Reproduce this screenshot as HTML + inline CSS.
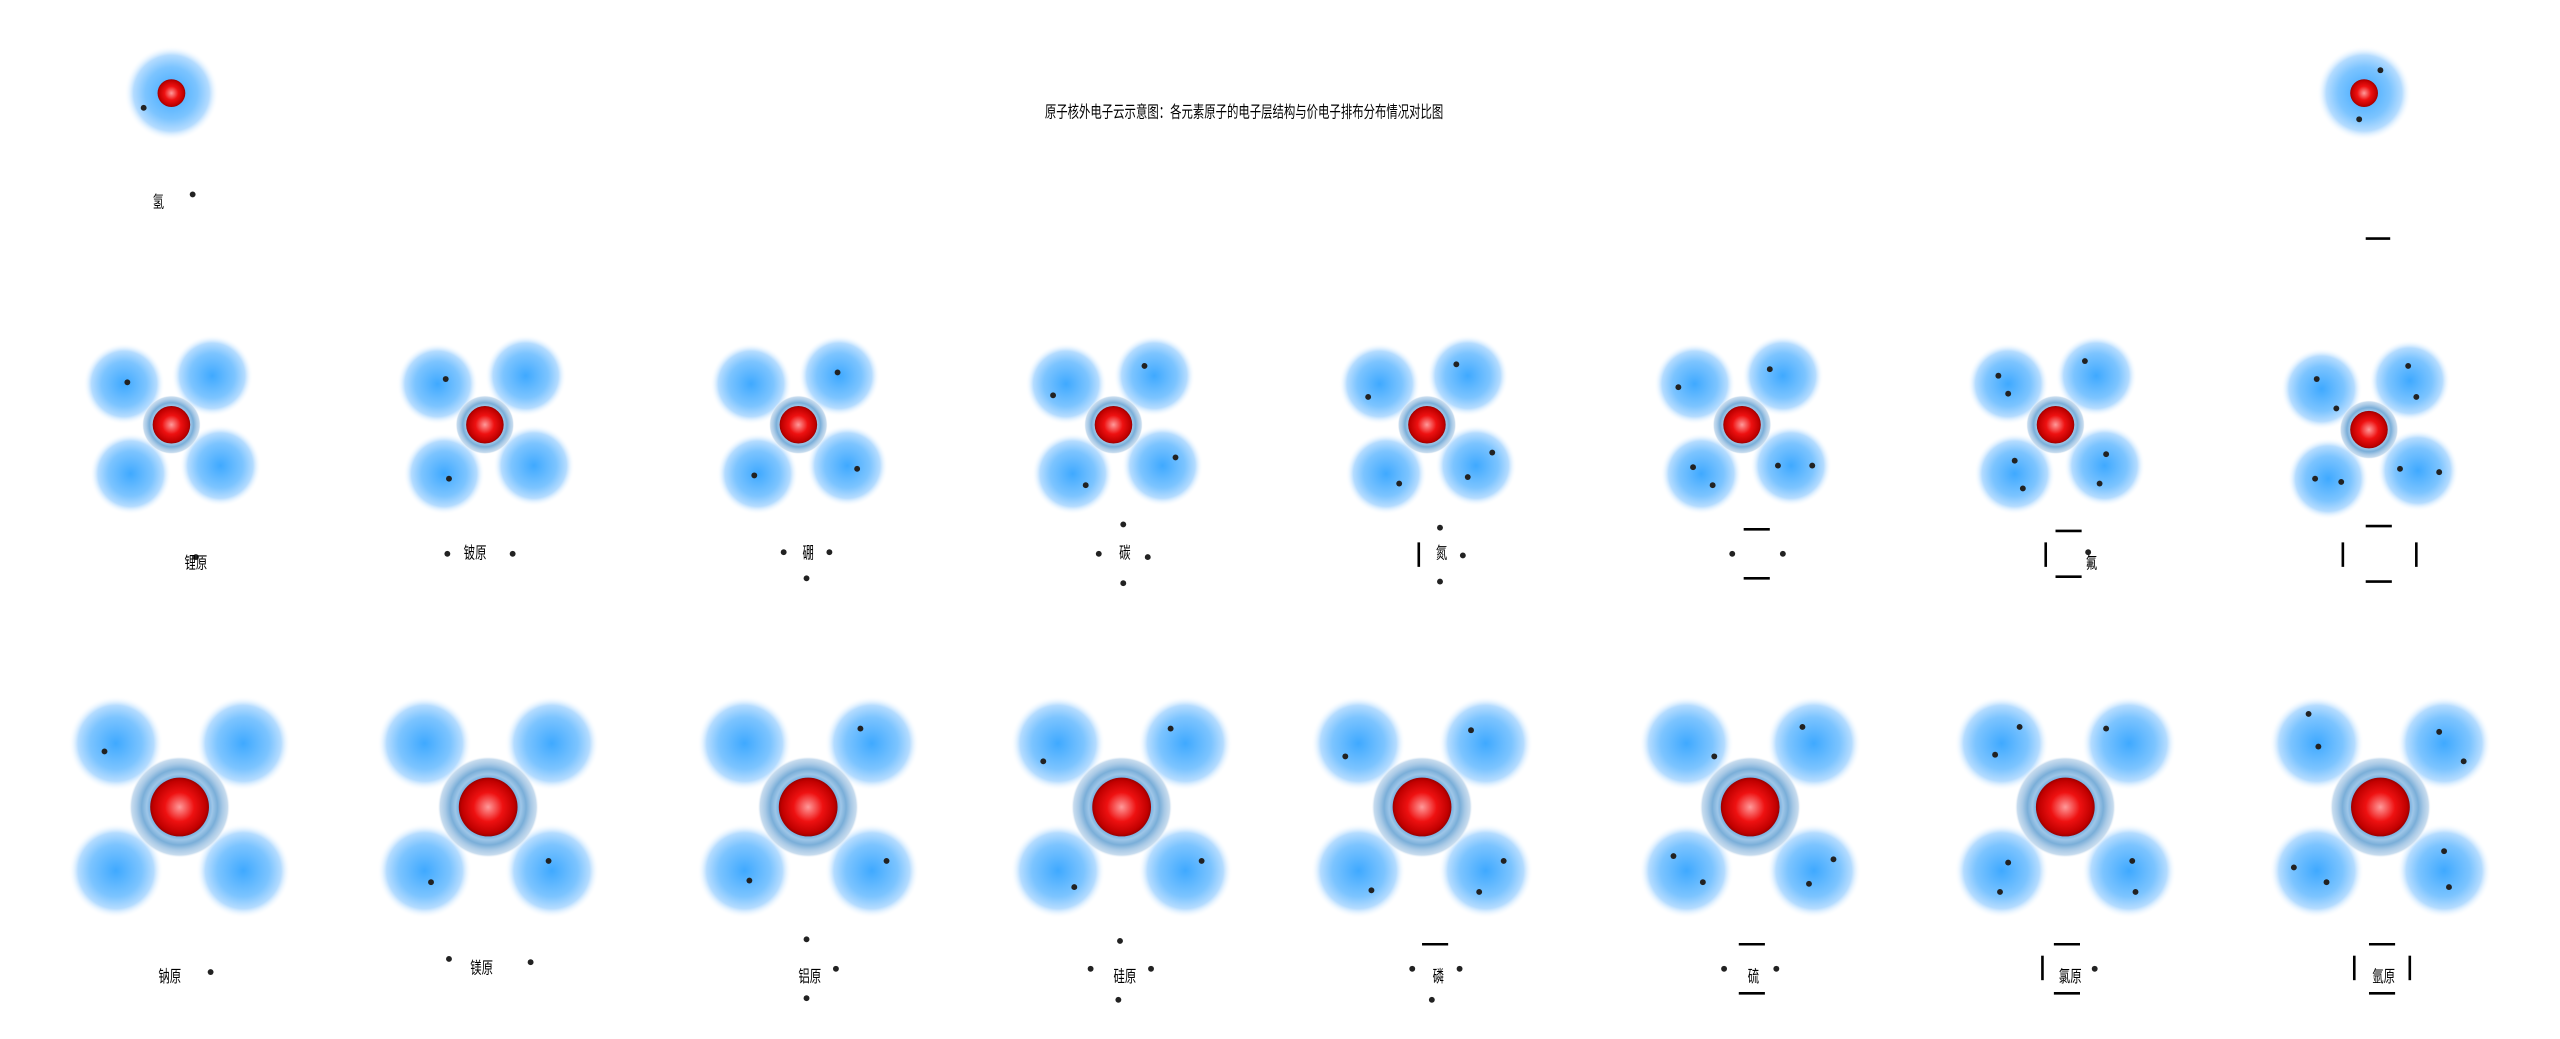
<!DOCTYPE html>
<html><head><meta charset="utf-8"><style>html,body{margin:0;padding:0;background:#fff}svg{display:block}text{font-family:"Liberation Sans","Noto Sans CJK SC",sans-serif;fill:#000}</style></head><body>
<svg width="2560" height="1039" viewBox="0 0 1568 636" preserveAspectRatio="none" xmlns="http://www.w3.org/2000/svg">
<defs>
<radialGradient id="lobe"><stop offset="0" stop-color="#3fa9ff"/><stop offset="0.55" stop-color="#7cc4ff"/><stop offset="0.8" stop-color="#b5dcff"/><stop offset="1" stop-color="#fff" stop-opacity="0"/></radialGradient>
<radialGradient id="nuc" cx="0.5" cy="0.5" r="0.5"><stop offset="0" stop-color="#ff9a9a"/><stop offset="0.5" stop-color="#ee1111"/><stop offset="0.9" stop-color="#c00000"/><stop offset="1" stop-color="#900"/></radialGradient>
<radialGradient id="halo"><stop offset="0.55" stop-color="#6aaae0"/><stop offset="0.65" stop-color="#9ec6e8"/><stop offset="0.75" stop-color="#7aaed8"/><stop offset="0.85" stop-color="#a8c9e6"/><stop offset="0.95" stop-color="#c8dcee"/><stop offset="1" stop-color="#fff" stop-opacity="0"/></radialGradient>
<g id="a1"><circle r="29" fill="url(#lobe)"/><circle r="8.5" fill="url(#nuc)"/></g>
<g id="a2"><ellipse cx="-29" cy="-25" rx="25" ry="25" fill="url(#lobe)"/><ellipse cx="25" cy="-30" rx="25" ry="25" fill="url(#lobe)"/><ellipse cx="-25" cy="30" rx="25" ry="25" fill="url(#lobe)"/><ellipse cx="30" cy="25" rx="25" ry="25" fill="url(#lobe)"/><circle r="18" fill="url(#halo)"/><circle r="11.5" fill="url(#nuc)"/></g>
<g id="a3"><circle cx="-39" cy="-39" r="29" fill="url(#lobe)"/><circle cx="39" cy="-39" r="29" fill="url(#lobe)"/><circle cx="-39" cy="39" r="29" fill="url(#lobe)"/><circle cx="39" cy="39" r="29" fill="url(#lobe)"/><circle r="31" fill="url(#halo)"/><circle r="18" fill="url(#nuc)"/></g>
</defs>
<use href="#a1" x="105" y="57"/><use href="#a1" x="1448" y="57"/>
<g><use href="#a2" x="105" y="260"/><use href="#a2" x="297" y="260"/><use href="#a2" x="489" y="260"/><use href="#a2" x="682" y="260"/><use href="#a2" x="874" y="260"/><use href="#a2" x="1067" y="260"/><use href="#a2" x="1259" y="260"/><use href="#a2" x="1451" y="263"/></g>
<g><use href="#a3" x="110" y="494"/><use href="#a3" x="299" y="494"/><use href="#a3" x="495" y="494"/><use href="#a3" x="687" y="494"/><use href="#a3" x="871" y="494"/><use href="#a3" x="1072" y="494"/><use href="#a3" x="1265" y="494"/><use href="#a3" x="1458" y="494"/></g>
<g fill="#222">
<circle cx="88" cy="66" r="1.8"/><circle cx="118" cy="119" r="1.8"/><circle cx="1458" cy="43" r="1.8"/><circle cx="1445" cy="73" r="1.8"/>
<circle cx="78" cy="234" r="1.8"/><circle cx="120" cy="341" r="1.8"/>
<circle cx="273" cy="232" r="1.8"/><circle cx="275" cy="293" r="1.8"/><circle cx="274" cy="339" r="1.8"/><circle cx="314" cy="339" r="1.8"/>
<circle cx="513" cy="228" r="1.8"/><circle cx="462" cy="291" r="1.8"/><circle cx="525" cy="287" r="1.8"/><circle cx="480" cy="338" r="1.8"/><circle cx="508" cy="338" r="1.8"/><circle cx="494" cy="354" r="1.8"/>
<circle cx="701" cy="224" r="1.8"/><circle cx="645" cy="242" r="1.8"/><circle cx="665" cy="297" r="1.8"/><circle cx="720" cy="280" r="1.8"/><circle cx="688" cy="321" r="1.8"/><circle cx="673" cy="339" r="1.8"/><circle cx="703" cy="341" r="1.8"/><circle cx="688" cy="357" r="1.8"/>
<circle cx="892" cy="223" r="1.8"/><circle cx="838" cy="243" r="1.8"/><circle cx="857" cy="296" r="1.8"/><circle cx="914" cy="277" r="1.8"/><circle cx="899" cy="292" r="1.8"/><circle cx="882" cy="323" r="1.8"/><circle cx="896" cy="340" r="1.8"/><circle cx="882" cy="356" r="1.8"/>
<circle cx="1084" cy="226" r="1.8"/><circle cx="1028" cy="237" r="1.8"/><circle cx="1037" cy="286" r="1.8"/><circle cx="1049" cy="297" r="1.8"/><circle cx="1089" cy="285" r="1.8"/><circle cx="1110" cy="285" r="1.8"/><circle cx="1061" cy="339" r="1.8"/><circle cx="1092" cy="339" r="1.8"/>
<circle cx="1277" cy="221" r="1.8"/><circle cx="1224" cy="230" r="1.8"/><circle cx="1230" cy="241" r="1.8"/><circle cx="1234" cy="282" r="1.8"/><circle cx="1239" cy="299" r="1.8"/><circle cx="1290" cy="278" r="1.8"/><circle cx="1286" cy="296" r="1.8"/><circle cx="1279" cy="338" r="1.8"/>
<circle cx="1475" cy="224" r="1.8"/><circle cx="1419" cy="232" r="1.8"/><circle cx="1431" cy="250" r="1.8"/><circle cx="1480" cy="243" r="1.8"/><circle cx="1418" cy="293" r="1.8"/><circle cx="1434" cy="295" r="1.8"/><circle cx="1470" cy="287" r="1.8"/><circle cx="1494" cy="289" r="1.8"/>
<circle cx="64" cy="460" r="1.8"/><circle cx="129" cy="595" r="1.8"/>
<circle cx="336" cy="527" r="1.8"/><circle cx="264" cy="540" r="1.8"/><circle cx="275" cy="587" r="1.8"/><circle cx="325" cy="589" r="1.8"/>
<circle cx="527" cy="446" r="1.8"/><circle cx="459" cy="539" r="1.8"/><circle cx="543" cy="527" r="1.8"/><circle cx="494" cy="575" r="1.8"/><circle cx="512" cy="593" r="1.8"/><circle cx="494" cy="611" r="1.8"/>
<circle cx="717" cy="446" r="1.8"/><circle cx="639" cy="466" r="1.8"/><circle cx="658" cy="543" r="1.8"/><circle cx="736" cy="527" r="1.8"/><circle cx="686" cy="576" r="1.8"/><circle cx="668" cy="593" r="1.8"/><circle cx="705" cy="593" r="1.8"/><circle cx="685" cy="612" r="1.8"/>
<circle cx="901" cy="447" r="1.8"/><circle cx="824" cy="463" r="1.8"/><circle cx="840" cy="545" r="1.8"/><circle cx="921" cy="527" r="1.8"/><circle cx="906" cy="546" r="1.8"/><circle cx="865" cy="593" r="1.8"/><circle cx="894" cy="593" r="1.8"/><circle cx="877" cy="612" r="1.8"/>
<circle cx="1104" cy="445" r="1.8"/><circle cx="1050" cy="463" r="1.8"/><circle cx="1025" cy="524" r="1.8"/><circle cx="1043" cy="540" r="1.8"/><circle cx="1123" cy="526" r="1.8"/><circle cx="1108" cy="541" r="1.8"/><circle cx="1056" cy="593" r="1.8"/><circle cx="1088" cy="593" r="1.8"/>
<circle cx="1237" cy="445" r="1.8"/><circle cx="1290" cy="446" r="1.8"/><circle cx="1222" cy="462" r="1.8"/><circle cx="1230" cy="528" r="1.8"/><circle cx="1225" cy="546" r="1.8"/><circle cx="1306" cy="527" r="1.8"/><circle cx="1308" cy="546" r="1.8"/><circle cx="1283" cy="593" r="1.8"/>
<circle cx="1414" cy="437" r="1.8"/><circle cx="1420" cy="457" r="1.8"/><circle cx="1494" cy="448" r="1.8"/><circle cx="1509" cy="466" r="1.8"/><circle cx="1405" cy="531" r="1.8"/><circle cx="1425" cy="540" r="1.8"/><circle cx="1497" cy="521" r="1.8"/><circle cx="1500" cy="543" r="1.8"/>
</g>
<g stroke="#000" stroke-width="1.6">
<line x1="1449" y1="146" x2="1464" y2="146"/>
<line x1="869" y1="332" x2="869" y2="347"/>
<line x1="1068" y1="324" x2="1084" y2="324"/><line x1="1068" y1="354" x2="1084" y2="354"/>
<line x1="1253" y1="332" x2="1253" y2="347"/><line x1="1259" y1="325" x2="1275" y2="325"/><line x1="1259" y1="353" x2="1275" y2="353"/>
<line x1="1435" y1="332" x2="1435" y2="347"/><line x1="1480" y1="332" x2="1480" y2="347"/><line x1="1449" y1="322" x2="1465" y2="322"/><line x1="1449" y1="356" x2="1465" y2="356"/>
<line x1="871" y1="578" x2="887" y2="578"/>
<line x1="1065" y1="578" x2="1081" y2="578"/><line x1="1065" y1="608" x2="1081" y2="608"/>
<line x1="1251" y1="585" x2="1251" y2="600"/><line x1="1258" y1="578" x2="1274" y2="578"/><line x1="1258" y1="608" x2="1274" y2="608"/>
<line x1="1442" y1="585" x2="1442" y2="600"/><line x1="1476" y1="585" x2="1476" y2="600"/><line x1="1451" y1="578" x2="1467" y2="578"/><line x1="1451" y1="608" x2="1467" y2="608"/>
</g>
<g font-size="10" text-anchor="middle" lengthAdjust="spacingAndGlyphs">
<text x="762" y="72" textLength="244" lengthAdjust="spacingAndGlyphs">原子核外电子云示意图：各元素原子的电子层结构与价电子排布分布情况对比图</text>
<text x="97" y="127" textLength="7" lengthAdjust="spacingAndGlyphs">氢</text>
<text x="120" y="348" textLength="14" lengthAdjust="spacingAndGlyphs">锂原</text><text x="291" y="342" textLength="14" lengthAdjust="spacingAndGlyphs">铍原</text><text x="495" y="342" textLength="7" lengthAdjust="spacingAndGlyphs">硼</text><text x="689" y="342" textLength="7" lengthAdjust="spacingAndGlyphs">碳</text><text x="883" y="342" textLength="7" lengthAdjust="spacingAndGlyphs">氮</text><text x="1281" y="348" textLength="7" lengthAdjust="spacingAndGlyphs">氟</text>
<text x="104" y="601" textLength="14" lengthAdjust="spacingAndGlyphs">钠原</text><text x="295" y="596" textLength="14" lengthAdjust="spacingAndGlyphs">镁原</text><text x="496" y="601" textLength="14" lengthAdjust="spacingAndGlyphs">铝原</text><text x="689" y="601" textLength="14" lengthAdjust="spacingAndGlyphs">硅原</text><text x="881" y="601" textLength="7" lengthAdjust="spacingAndGlyphs">磷</text><text x="1074" y="601" textLength="7" lengthAdjust="spacingAndGlyphs">硫</text><text x="1268" y="601" textLength="14" lengthAdjust="spacingAndGlyphs">氯原</text><text x="1460" y="601" textLength="14" lengthAdjust="spacingAndGlyphs">氩原</text>
</g>
</svg>
</body></html>
